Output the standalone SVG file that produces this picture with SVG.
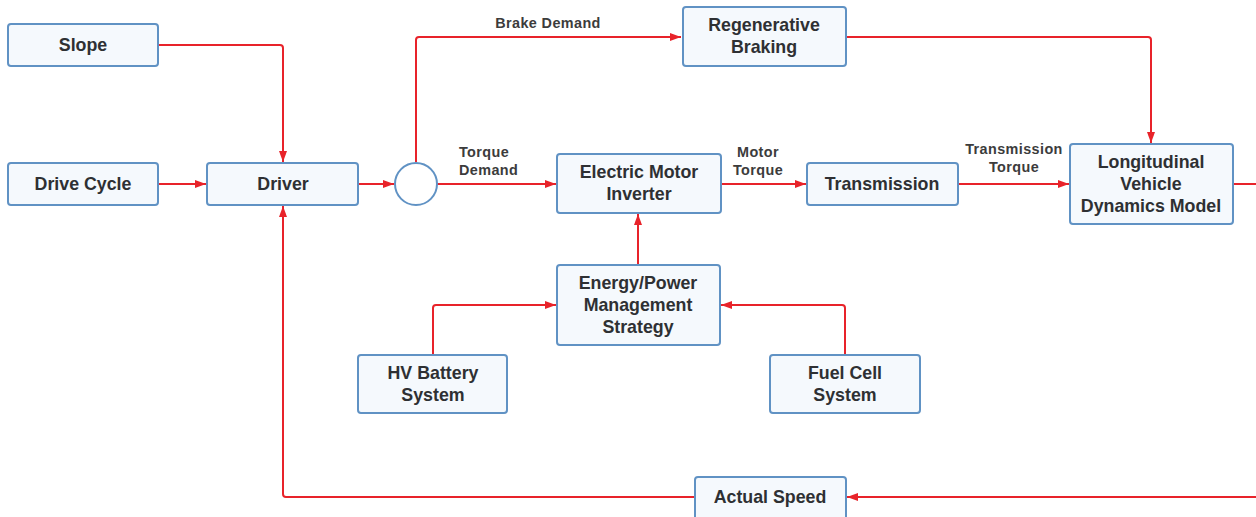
<svg xmlns="http://www.w3.org/2000/svg" width="1256" height="517" viewBox="0 0 1256 517">
<defs>
<marker id="ah" viewBox="0 0 11 10" refX="11" refY="5" markerWidth="11" markerHeight="10" markerUnits="userSpaceOnUse" orient="auto">
<path d="M0,1 L11,5 L0,9 Z" fill="#e8232a"/>
</marker>
<style>
.box{fill:#f5f9fd;stroke:#6092c4;stroke-width:2}
.t{font-family:"Liberation Sans",Arial,sans-serif;font-weight:bold;font-size:17.8px;fill:#2e3033;text-anchor:middle}
.l{font-family:"Liberation Sans",Arial,sans-serif;font-weight:bold;font-size:14.4px;fill:#3c3c3c;text-anchor:middle;letter-spacing:0.4px}
.c{fill:none;stroke:#e8232a;stroke-width:2;stroke-linejoin:round}
.a{marker-end:url(#ah)}
</style>
</defs>
<rect width="1256" height="517" fill="#ffffff"/>
<g id="connectors">
<path class="c a" d="M158,45 H280 Q283,45 283,48 V162"/>
<path class="c a" d="M158,184 H206"/>
<path class="c a" d="M358,184 H394"/>
<path class="c a" d="M416,162 V40 Q416,37 419,37 H681"/>
<path class="c a" d="M437,184 H556"/>
<path class="c a" d="M846,37 H1148 Q1151,37 1151,40 V143"/>
<path class="c a" d="M721,184 H806"/>
<path class="c a" d="M958,184 H1069"/>
<path class="c" d="M1233,184 H1256"/>
<path class="c a" d="M638,265 V214"/>
<path class="c a" d="M433,355 V308 Q433,305 436,305 H556"/>
<path class="c a" d="M845,355 V308 Q845,305 842,305 H721"/>
<path class="c a" d="M1256,497 H847"/>
<path class="c a" d="M695,497 H286 Q283,497 283,494 V206"/>
</g>
<g id="slope"><rect class="box" x="8" y="24" width="150" height="42" rx="3"/><text class="t" x="83" y="51">Slope</text></g>
<g id="drive-cycle"><rect class="box" x="8" y="163" width="150" height="42" rx="3"/><text class="t" x="83" y="190">Drive Cycle</text></g>
<g id="driver"><rect class="box" x="207" y="163" width="151" height="42" rx="3"/><text class="t" x="283" y="190">Driver</text></g>
<g id="sum"><circle cx="416" cy="184" r="21" fill="#ffffff" stroke="#6092c4" stroke-width="2"/></g>
<g id="regen"><rect class="box" x="683" y="7" width="163" height="59" rx="3"/><text class="t" x="764" y="31">Regenerative</text><text class="t" x="764" y="53">Braking</text></g>
<g id="emi"><rect class="box" x="557" y="154" width="164" height="59" rx="3"/><text class="t" x="639" y="178">Electric Motor</text><text class="t" x="639" y="200">Inverter</text></g>
<g id="transmission"><rect class="box" x="807" y="163" width="151" height="42" rx="3"/><text class="t" x="882" y="190">Transmission</text></g>
<g id="lvdm"><rect class="box" x="1070" y="144" width="163" height="80" rx="3"/><text class="t" x="1151" y="168">Longitudinal</text><text class="t" x="1151" y="190">Vehicle</text><text class="t" x="1151" y="212">Dynamics Model</text></g>
<g id="energy"><rect class="box" x="557" y="265" width="163" height="80" rx="3"/><text class="t" x="638" y="289">Energy/Power</text><text class="t" x="638" y="311">Management</text><text class="t" x="638" y="333">Strategy</text></g>
<g id="battery"><rect class="box" x="358" y="355" width="149" height="58" rx="3"/><text class="t" x="433" y="379">HV Battery</text><text class="t" x="433" y="401">System</text></g>
<g id="fuelcell"><rect class="box" x="770" y="355" width="150" height="58" rx="3"/><text class="t" x="845" y="379">Fuel Cell</text><text class="t" x="845" y="401">System</text></g>
<g id="actual-speed"><rect class="box" x="695" y="477" width="151" height="44" rx="3"/><text class="t" x="770" y="503">Actual Speed</text></g>
<g id="labels">
<text class="l" x="548" y="28">Brake Demand</text>
<text class="l" x="459" y="157" style="text-anchor:start">Torque</text><text class="l" x="459" y="175" style="text-anchor:start">Demand</text>
<text class="l" x="758" y="157">Motor</text><text class="l" x="758" y="175">Torque</text>
<text class="l" x="1014" y="154">Transmission</text><text class="l" x="1014" y="172">Torque</text>
</g>
</svg>
